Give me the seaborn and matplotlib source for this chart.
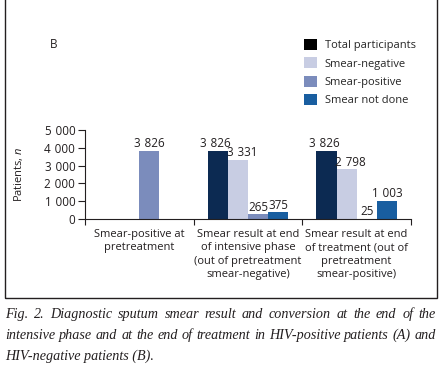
import matplotlib
matplotlib.use("Agg")
import matplotlib.pyplot as plt
import matplotlib.colors as mcolors
import seaborn as sns
import pandas as pd
from matplotlib.patches import Rectangle

categories = [
    "Smear-positive at\npretreatment",
    "Smear result at end\nof intensive phase\n(out of pretreatment\nsmear-negative)",
    "Smear result at end\nof treatment (out of\npretreatment\nsmear-positive)",
]
statuses = ["Total participants", "Smear-negative", "Smear-positive", "Smear not done"]
group_cat = [0, 1, 1, 1, 1, 2, 2, 2, 2]
group_status = [2, 0, 1, 2, 3, 0, 1, 2, 3]
counts = [3826, 3826, 3331, 265, 375, 3826, 2798, 25, 1003]
yticks = [0, 1000, 2000, 3000, 4000, 5000]
colors = ["#0c2a52", "#c8cde3", "#7b8cbc", "#195ea0"]
legend_colors = ["#000000", "#c8cde3", "#7b8cbc", "#195ea0"]

caption_lines = [
    "Fig. 2. Diagnostic sputum smear result and conversion at the end of the",
    "intensive phase and at the end of treatment in HIV-positive patients (A) and",
    "HIV-negative patients (B).",
]

df = pd.DataFrame({
    "category": [categories[i] for i in group_cat],
    "status": [statuses[i] for i in group_status],
    "count": counts,
})

sns.set_theme(style="white")
plt.rcParams["font.family"] = ["Open Sans", "DejaVu Sans"]
plt.rcParams["mathtext.fontset"] = "custom"
plt.rcParams["mathtext.it"] = "Open Sans:italic"
plt.rcParams["mathtext.rm"] = "Open Sans"

W, H = 441, 369
fig = plt.figure(figsize=(W / 100, H / 100), dpi=100)
fig.patch.set_facecolor("white")

def fx(px):
    return px / W

def fy(py):
    return 1 - py / H

def fmt(v):
    return f"{int(v):,}".replace(",", "\u2004")

TXT = "#231f20"
ax = fig.add_axes([fx(85), fy(219), fx(411) - fx(85), fy(130) - fy(219)])

sns.barplot(data=df, x="category", y="count", hue="status", order=categories,
            hue_order=statuses, palette=dict(zip(statuses, colors)),
            width=0.74, linewidth=0, saturation=1, ax=ax, legend=True)

fs = 8
nfs = 8.4
# horizontal label nudges (points) per status, as in the reference
label_dx = [-1.5, 3.0, 0.0, 0.0]
rgb_list = [mcolors.to_rgb(c) for c in colors]
for cont in ax.containers:
    anns = ax.bar_label(cont, labels=[fmt(v) for v in cont.datavalues], padding=0.5,
                        fontsize=nfs, color=TXT)
    fc = mcolors.to_rgb(cont.patches[0].get_facecolor())
    idx = min(range(len(rgb_list)),
              key=lambda k: sum((a - b) ** 2 for a, b in zip(rgb_list[k], fc)))
    for a in anns:
        a.xyann = (label_dx[idx], 0.5)

ax.set_ylim(0, 5000)
ax.set_xlim(-0.5, 2.5)
ax.set_yticks(yticks)
ax.set_yticklabels([fmt(v) for v in yticks], fontsize=nfs, color=TXT)
ax.tick_params(axis="y", left=True, length=5, width=0.8, color=TXT, pad=2)
ax.set_xticks(range(len(categories)))
ax.set_xticklabels(categories, fontsize=fs, color=TXT, linespacing=1.32)
ax.tick_params(axis="x", which="major", length=0, pad=7)
ax.set_xticks([-0.5, 0.5, 1.5, 2.5], minor=True)
ax.tick_params(axis="x", which="minor", bottom=True, length=4, width=0.8, color=TXT)
ax.set_xlabel("")
ax.set_ylabel("Patients, $n$", fontsize=fs, color=TXT)
ax.yaxis.set_label_coords(-(85 - 25) / (411 - 85), 0.5)
sns.despine(ax=ax)
for s in ["left", "bottom"]:
    ax.spines[s].set_color(TXT)
    ax.spines[s].set_linewidth(0.8)

# legend
handles, labels = ax.get_legend_handles_labels()
for h, c in zip(handles, legend_colors):
    h.set_facecolor(c)
ax.legend(handles, labels, loc="upper left", bbox_to_anchor=(fx(304), fy(39)),
          bbox_transform=fig.transFigure, frameon=False, fontsize=fs,
          handlelength=1.15, handleheight=1.15, handletextpad=0.7,
          labelspacing=0.55, borderpad=0, borderaxespad=0)

fig.text(fx(53.5), fy(44.5), "B", fontsize=fs + 0.5, ha="center", va="center", color=TXT)

# frame
fig.add_artist(Rectangle((fx(5), fy(298)), fx(437) - fx(5), 1.02 - fy(298),
                         transform=fig.transFigure, fill=False, edgecolor=TXT,
                         linewidth=1.0, clip_on=False))

# justified caption
cap_font = dict(family="Liberation Serif", style="italic", size=10.2, color=TXT)
fig.canvas.draw()
renderer = fig.canvas.get_renderer()
left_px, right_px = 5, 436
ys = [318, 339, 360]
for i, line in enumerate(caption_lines):
    words = line.split(" ")
    if i < len(caption_lines) - 1:
        tws = []
        for w in words:
            t = fig.text(0, 0, w, **cap_font)
            tws.append(t.get_window_extent(renderer).width)
            t.remove()
        gap = (right_px - left_px - sum(tws)) / (len(words) - 1)
        x = left_px
        for w, tw in zip(words, tws):
            fig.text(fx(x), fy(ys[i]), w, ha="left", va="baseline", **cap_font)
            x += tw + gap
    else:
        fig.text(fx(left_px), fy(ys[i]), line, ha="left", va="baseline", **cap_font)

fig.savefig("out.png", dpi=100, facecolor="white")
